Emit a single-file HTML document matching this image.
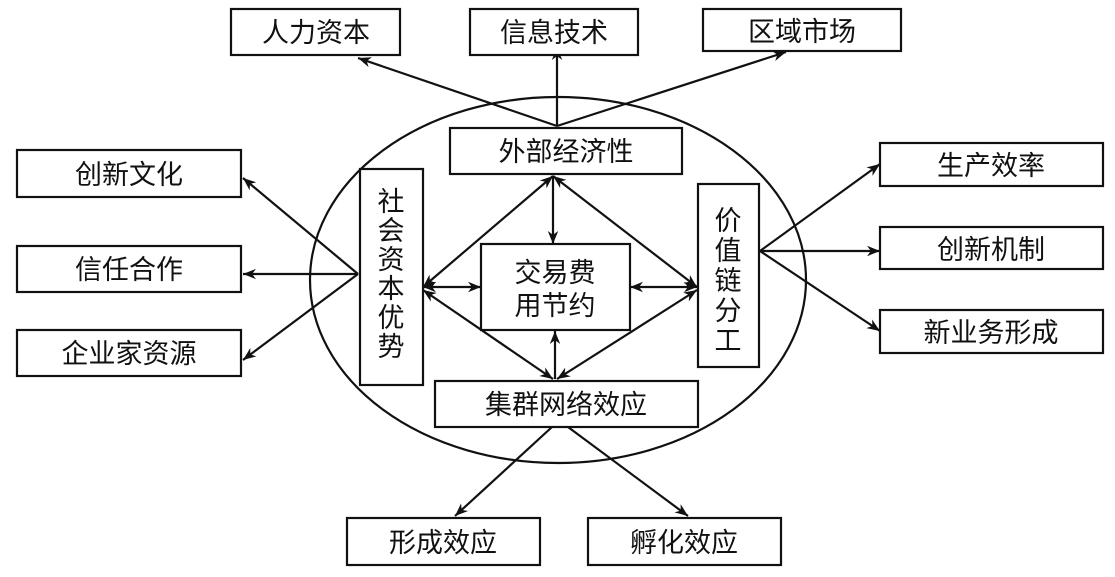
<!DOCTYPE html>
<html><head><meta charset="utf-8"><style>
html,body{margin:0;padding:0;background:#fff}
svg text{font-family:"Liberation Sans","Noto Sans CJK SC",sans-serif;fill:#111}
</style></head><body>
<svg width="1115" height="572" viewBox="0 0 1115 572" xmlns="http://www.w3.org/2000/svg">
<defs>
<marker id="a" viewBox="0 0 10 10" refX="10" refY="5" markerWidth="13" markerHeight="13" markerUnits="userSpaceOnUse" orient="auto-start-reverse">
<path d="M0,1 L10,5 L0,9 L3,5 z" fill="#111"/></marker>
</defs>
<g fill="none" stroke="#111" stroke-width="2.2">
<ellipse cx="558" cy="280" rx="248" ry="183"/>
<line x1="557" y1="126" x2="358" y2="58" marker-end="url(#a)"/>
<line x1="557" y1="126" x2="557" y2="47" marker-end="url(#a)"/>
<line x1="557" y1="126" x2="786" y2="52" marker-end="url(#a)"/>
<line x1="358" y1="274" x2="243" y2="178" marker-end="url(#a)"/>
<line x1="358" y1="274" x2="243" y2="274" marker-end="url(#a)"/>
<line x1="358" y1="274" x2="243" y2="360" marker-end="url(#a)"/>
<line x1="760" y1="251" x2="880" y2="164" marker-end="url(#a)"/>
<line x1="760" y1="251" x2="880" y2="251" marker-end="url(#a)"/>
<line x1="760" y1="251" x2="880" y2="331" marker-end="url(#a)"/>
<line x1="552" y1="427" x2="455" y2="516" marker-end="url(#a)"/>
<line x1="568" y1="427" x2="688" y2="516" marker-end="url(#a)"/>
<line x1="553" y1="176" x2="423" y2="287" marker-start="url(#a)" marker-end="url(#a)"/>
<line x1="553" y1="176" x2="697" y2="287" marker-start="url(#a)" marker-end="url(#a)"/>
<line x1="553" y1="176" x2="553" y2="244" marker-end="url(#a)"/>
<line x1="423" y1="287" x2="481" y2="287" marker-start="url(#a)" marker-end="url(#a)"/>
<line x1="630" y1="287" x2="697" y2="287" marker-start="url(#a)" marker-end="url(#a)"/>
<line x1="423" y1="290" x2="553" y2="379" marker-start="url(#a)" marker-end="url(#a)"/>
<line x1="697" y1="290" x2="557" y2="379" marker-start="url(#a)" marker-end="url(#a)"/>
<line x1="555" y1="379" x2="555" y2="331" marker-end="url(#a)"/>
</g>
<g fill="#fff" stroke="#111" stroke-width="2.2">
<rect x="231" y="9" width="169" height="46"/>
<rect x="470" y="9" width="168" height="46"/>
<rect x="703" y="9" width="198" height="42"/>
<rect x="17" y="150" width="224" height="47"/>
<rect x="17" y="246" width="224" height="46"/>
<rect x="17" y="330" width="224" height="46"/>
<rect x="880" y="143" width="223" height="43"/>
<rect x="880" y="227" width="223" height="42"/>
<rect x="880" y="310" width="223" height="43"/>
<rect x="347" y="518" width="193" height="47"/>
<rect x="588" y="518" width="193" height="47"/>
<rect x="450" y="128" width="232" height="46"/>
<rect x="360" y="169" width="63" height="216"/>
<rect x="481" y="244" width="149" height="86"/>
<rect x="698" y="184" width="61" height="183"/>
<rect x="435" y="381" width="263" height="46"/>
</g>
<g font-size="27" text-anchor="middle">
<text x="316" y="42">人力资本</text>
<text x="554" y="42">信息技术</text>
<text x="802" y="41">区域市场</text>
<text x="129" y="184">创新文化</text>
<text x="129" y="279">信任合作</text>
<text x="129" y="363">企业家资源</text>
<text x="991" y="175">生产效率</text>
<text x="991" y="259">创新机制</text>
<text x="991" y="342">新业务形成</text>
<text x="443" y="552">形成效应</text>
<text x="684" y="552">孵化效应</text>
<text x="566" y="161">外部经济性</text>
<text x="555" y="282">交易费</text>
<text x="555" y="315">用节约</text>
<text x="566" y="414">集群网络效应</text>
<text x="391" y="211">社</text>
<text x="391" y="240">会</text>
<text x="391" y="269">资</text>
<text x="391" y="298">本</text>
<text x="391" y="327">优</text>
<text x="391" y="356">势</text>
<text x="728" y="230">价</text>
<text x="728" y="260">值</text>
<text x="728" y="290">链</text>
<text x="728" y="320">分</text>
<text x="728" y="350">工</text>
</g>
</svg>
</body></html>
